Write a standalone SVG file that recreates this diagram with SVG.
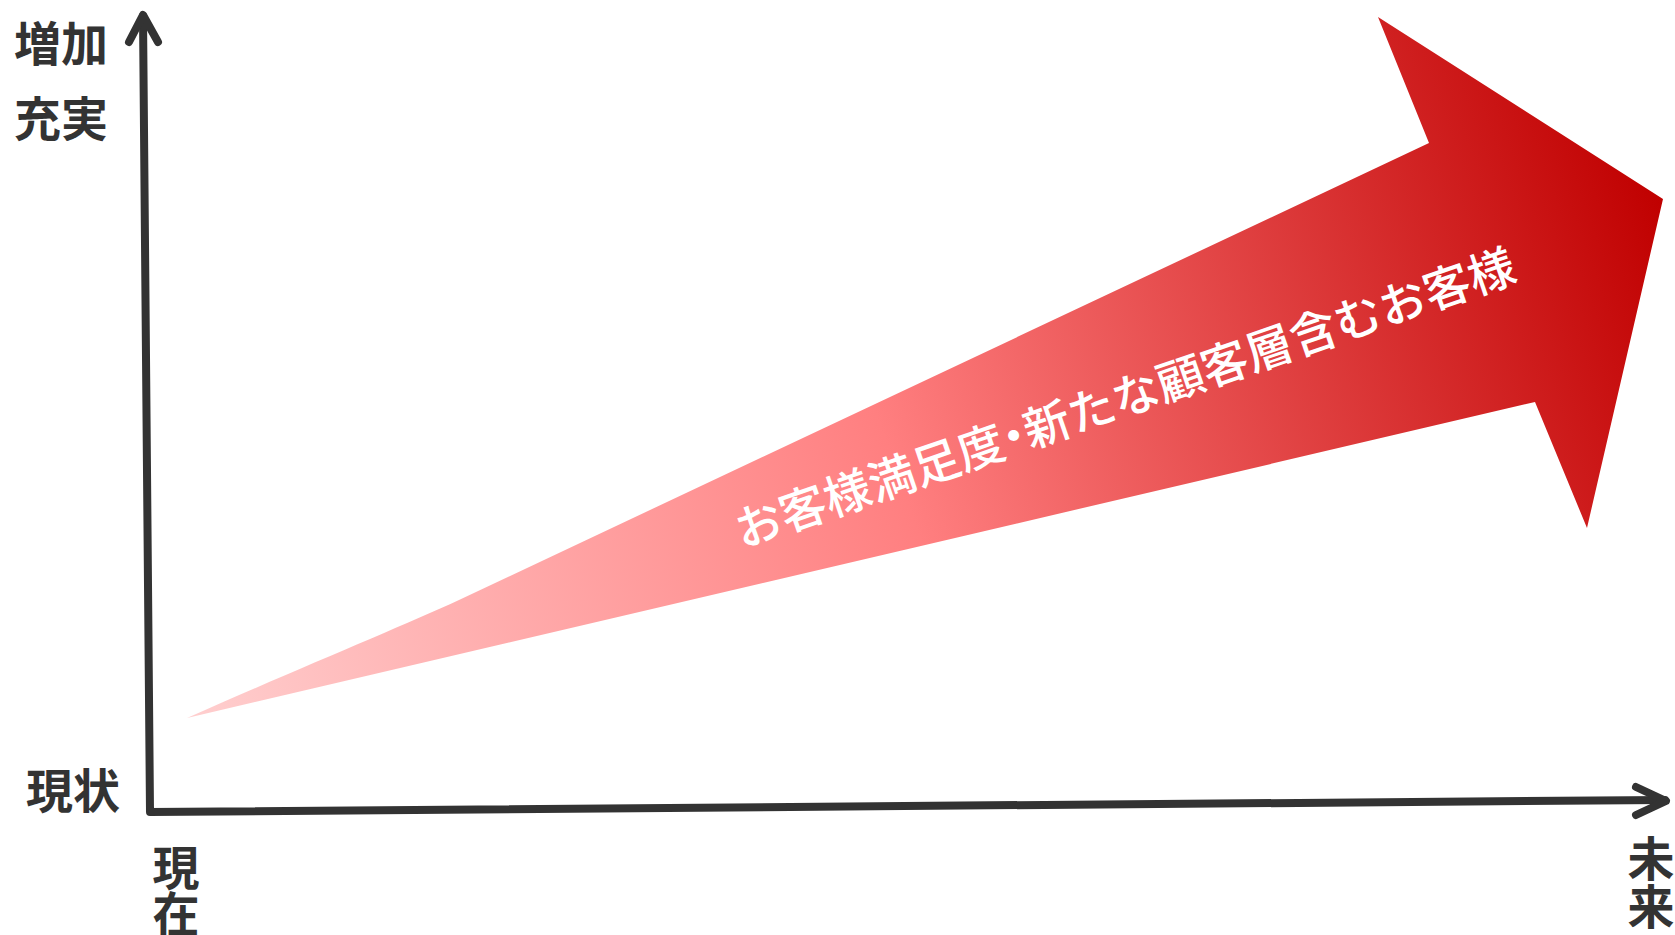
<svg xmlns="http://www.w3.org/2000/svg" width="1675" height="935" viewBox="0 0 1675 935">
<style>
.ax{fill:none;stroke:#333333;stroke-width:8;stroke-linecap:round;stroke-linejoin:round}
.lbl{font-family:"Noto Sans CJK JP","Noto Sans CJK SC",sans-serif;font-weight:700;font-size:47px;fill:#333333}
.main{font-family:"Noto Sans CJK JP","Noto Sans CJK SC",sans-serif;font-weight:500;font-size:47px;fill:#ffffff}
</style>
<defs>
<linearGradient id="g" gradientUnits="userSpaceOnUse" x1="187" y1="718" x2="1663" y2="199">
<stop offset="0" stop-color="#ffcfcf"/>
<stop offset="0.48" stop-color="#ff7f80"/>
<stop offset="1" stop-color="#c00000"/>
</linearGradient>
</defs>
<rect width="1675" height="935" fill="#ffffff"/>
<g id="growth-arrow">
<path d="M187,718 C300,668 400,627 459,600 L1429,143 L1378,17 L1663,199 L1587,528 L1535,402 Z" fill="url(#g)"/>
<text class="main" transform="translate(1125,398) rotate(-19)" x="0" y="17" text-anchor="middle">お客様満足度<tspan dx="-12">・</tspan><tspan dx="-12">新たな顧客層含むお客様</tspan></text>
</g>
<g id="axes">
<path class="ax" d="M143,16 L150,812 L1665,800"/>
<path class="ax" d="M129,42 L143,15 L158,42"/>
<path class="ax" d="M1636,787 L1666,801 L1636,815"/>
</g>
<g id="label-y-top">
<text class="lbl" x="14" y="61">増加</text>
<text class="lbl" x="14" y="136">充実</text>
</g>
<g id="label-y-bottom">
<text class="lbl" x="26" y="808">現状</text>
</g>
<g id="label-x-left">
<text class="lbl" text-anchor="middle"><tspan x="176" y="885">現</tspan><tspan x="176" y="931">在</tspan></text>
</g>
<g id="label-x-right">
<text class="lbl" text-anchor="middle"><tspan x="1651" y="876">未</tspan><tspan x="1651" y="924">来</tspan></text>
</g>
</svg>
